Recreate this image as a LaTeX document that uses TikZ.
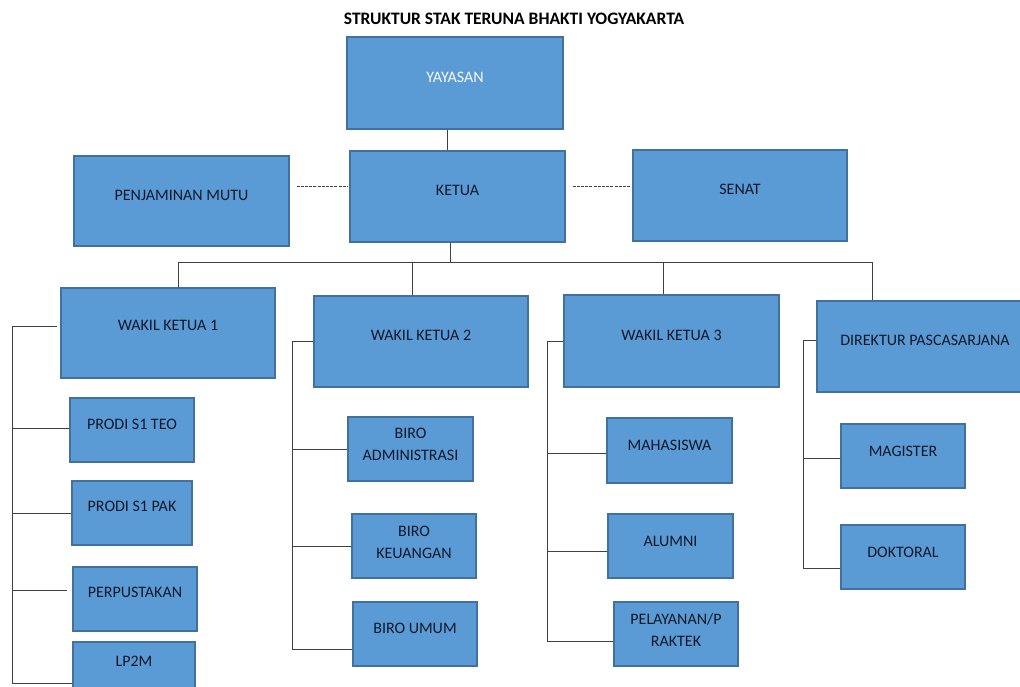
\documentclass[tikz,border=0pt]{standalone}
\usepackage{fontspec}
\setmainfont{Carlito}
\usepackage{tikz}

\definecolor{boxfill}{HTML}{5B9BD5}
\definecolor{boxline}{HTML}{41719C}
\definecolor{linkgray}{HTML}{404040}
\definecolor{labeltext}{HTML}{10182A}

\begin{document}
\begin{tikzpicture}[x=1pt,y=-1pt,
    box/.style={rectangle, draw=boxline, fill=boxfill, line width=1.2pt, inner sep=0pt},
    every label/.style={font=\fontsize{16}{22}\selectfont, text=labeltext, align=center},
    link/.style={draw=linkgray, line width=0.8pt},
    dashlink/.style={draw=linkgray, line width=0.9pt, dash pattern=on 3pt off 1.2pt}]

        \useasboundingbox (0,0) rectangle (1020,686);

        \node (title) at (514,19) {\fontsize{17.5}{20}\selectfont\bfseries STRUKTUR STAK TERUNA BHAKTI YOGYAKARTA};

        % top level
        \node[box, minimum width=216, minimum height=92,
              label={[yshift=6pt, text=white!94!boxfill]center:YAYASAN}] (yayasan) at (455,83) {};
        \node[box, minimum width=215, minimum height=91,
              label={[yshift=6.5pt]center:KETUA}] (ketua) at (457.5,196.5) {};
        \node[box, minimum width=215, minimum height=90,
              label={[yshift=6pt]center:PENJAMINAN MUTU}] (penjamin) at (181.5,201) {};
        \node[box, minimum width=214, minimum height=91,
              label={[yshift=6.5pt]center:SENAT}] (senat) at (740,195.5) {};

        % wakil ketua row
        \node[box, minimum width=214, minimum height=90,
              label={[yshift=8pt]center:WAKIL KETUA 1}] (wk1) at (168,333) {};
        \node[box, minimum width=214, minimum height=91,
              label={[yshift=6.5pt]center:WAKIL KETUA 2}] (wk2) at (421,341.5) {};
        \node[box, minimum width=215, minimum height=92,
              label={[yshift=6pt]center:WAKIL KETUA 3}] (wk3) at (671.5,341) {};
        \node[box, minimum width=216, minimum height=91,
              label={[yshift=6.5pt]center:DIREKTUR PASCASARJANA}] (dp) at (925,346.5) {};

        % units under wakil ketua 1
        \node[box, minimum width=124, minimum height=64,
              label={[yshift=6pt]center:PRODI S1 TEO}] (teo) at (132,430) {};
        \node[box, minimum width=120, minimum height=64,
              label={[yshift=7pt]center:PRODI S1 PAK}] (pak) at (132,513) {};
        \node[box, minimum width=124, minimum height=64,
              label={[yshift=7pt]center:PERPUSTAKAN}] (perpus) at (135,599) {};
        \node[box, minimum width=122, minimum height=64,
              label={[yshift=13pt]center:LP2M}] (lp2m) at (134,674) {};

        % units under wakil ketua 2
        \node[box, minimum width=125, minimum height=64,
              label={[yshift=4.5pt]center:BIRO\\ADMINISTRASI}] (adm) at (410.5,449) {};
        \node[box, minimum width=124, minimum height=64,
              label={[yshift=4pt]center:BIRO\\KEUANGAN}] (keu) at (414,546) {};
        \node[box, minimum width=124, minimum height=64,
              label={[yshift=6pt]center:BIRO UMUM}] (umum) at (415,634) {};

        % units under wakil ketua 3
        \node[box, minimum width=125, minimum height=65,
              label={[yshift=5pt]center:MAHASISWA}] (maha) at (669.5,450.5) {};
        \node[box, minimum width=125, minimum height=64,
              label={[yshift=5pt]center:ALUMNI}] (alumni) at (670.5,546) {};
        \node[box, minimum width=124, minimum height=64,
              label={[yshift=4pt]center:PELAYANAN/P\\RAKTEK}] (pelayanan) at (676,634) {};

        % units under direktur pascasarjana
        \node[box, minimum width=124, minimum height=64,
              label={[yshift=5pt]center:MAGISTER}] (magister) at (903,456) {};
        \node[box, minimum width=124, minimum height=64,
              label={[yshift=5pt]center:DOKTORAL}] (doktoral) at (903,557) {};

        % trunk and bus points
        \coordinate (bus) at (450,262);
        \coordinate (b1) at (178,262);
        \coordinate (b2) at (412,262);
        \coordinate (b3) at (663,262);
        \coordinate (b4) at (872,262);
        \coordinate (t1) at (12,0);
        \coordinate (t2) at (292,0);
        \coordinate (t3) at (547,0);
        \coordinate (t4) at (803,0);

        \begin{scope}[every path/.style={link}]
          \path ([xshift=-8pt]yayasan.south) edge ([xshift=-8pt]yayasan.south |- ketua.north);
          \path (ketua.south -| bus) edge (bus);
          \path (b1) edge (b4);
          \path (b1) edge (b1 |- wk1.north);
          \path (b2) edge (b2 |- wk2.north);
          \path (b3) edge (b3 |- wk3.north);
          \path (b4) edge (b4 |- dp.north);

          \draw ([xshift=-3pt,yshift=7pt]wk1.west) -- ([yshift=7pt]wk1.west -| t1) |- ([yshift=-9pt]lp2m.west);
          \path ([yshift=2pt]teo.west) edge ([yshift=2pt]teo.west -| t1);
          \path (pak.west) edge (pak.west -| t1);
          \path ([xshift=-5pt,yshift=9pt]perpus.west) edge ([yshift=9pt]perpus.west -| t1);

          \draw (wk2.west) -- (wk2.west -| t2) |- ([yshift=-15pt]umum.west);
          \path (adm.west) edge (adm.west -| t2);
          \path (keu.west) edge (keu.west -| t2);

          \draw (wk3.west) -- (wk3.west -| t3) |- ([yshift=-7pt]pelayanan.west);
          \path ([yshift=-2.5pt]maha.west) edge ([yshift=-2.5pt]maha.west -| t3);
          \path ([yshift=-5pt]alumni.west) edge ([yshift=-5pt]alumni.west -| t3);

          \draw ([yshift=6.5pt]dp.west) -- ([yshift=6.5pt]dp.west -| t4) |- ([yshift=-11pt]doktoral.west);
          \path ([yshift=-2pt]magister.west) edge ([yshift=-2pt]magister.west -| t4);
        \end{scope}

        \draw[dashlink] ([xshift=7pt,yshift=15pt]penjamin.east) -- ([xshift=-2pt,yshift=15pt]penjamin.east -| ketua.west);
        \draw[dashlink] ([xshift=7pt,yshift=10.5pt]ketua.east) -- ([xshift=-2pt,yshift=10.5pt]ketua.east -| senat.west);

      \end{tikzpicture}
\end{document}
